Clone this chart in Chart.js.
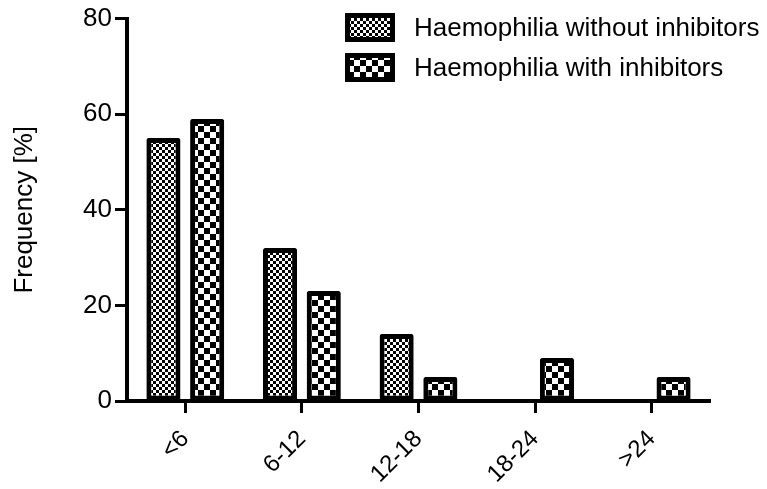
<!DOCTYPE html>
<html>
<head>
<meta charset="utf-8">
<script src="https://cdn.jsdelivr.net/npm/chart.js@4/dist/chart.umd.min.js"></script>
<style>
  html, body { margin: 0; padding: 0; background: #fff; }
  #chart { display: block; }
</style>
</head>
<body>
<canvas id="chart" width="767" height="489"></canvas>
<script>
// Données (fréquence en %)
const categories = ['<6', '6-12', '12-18', '18-24', '>24'];
const seriesNames = ['Haemophilia without inhibitors', 'Haemophilia with inhibitors'];
const withoutInhibitors = [55, 32, 14, 0, 0];
const withInhibitors = [59, 23, 5, 9, 5];
const yTicks = [0, 20, 40, 60, 80];

const FONT = "Arial, 'Liberation Sans', sans-serif";

const ctx = document.getElementById('chart').getContext('2d');

// Motif damier (taille de case en px)
function checker(cell) {
    const c = document.createElement('canvas');
    c.width = c.height = cell * 2;
    const g = c.getContext('2d');
    g.fillStyle = '#fff';
    g.fillRect(0, 0, cell * 2, cell * 2);
    g.fillStyle = '#000';
    g.fillRect(0, 0, cell, cell);
    g.fillRect(cell, cell, cell, cell);
    return ctx.createPattern(c, 'repeat');
}

const fineChecker = checker(3);
const coarseChecker = checker(6);

// Légende dessinée à la main, en haut à droite
const legendPlugin = {
    id: 'patternLegend',
    afterDraw(chart) {
        const g = chart.ctx;
        g.save();
        chart.data.datasets.forEach((ds, i) => {
            const x = 345, y = 13 + i * 40, w = 50, h = 29;
            g.fillStyle = ds.backgroundColor;
            g.fillRect(x, y, w, h);
            g.lineWidth = 5;
            g.strokeStyle = '#000';
            g.strokeRect(x + 2.5, y + 2.5, w - 5, h - 5);
            g.fillStyle = '#000';
            g.font = '26px ' + FONT;
            g.textBaseline = 'middle';
            g.fillText(ds.label, 414, y + h / 2 + 1);
        });
        g.restore();
    }
};

new Chart(ctx, {
    type: 'bar',
    data: {
        labels: categories,
        datasets: [{
            label: seriesNames[0],
            data: withoutInhibitors,
            backgroundColor: fineChecker,
            borderColor: '#000',
            borderWidth: 5,
            borderRadius: 2,
            borderSkipped: false
        }, {
            label: seriesNames[1],
            data: withInhibitors,
            backgroundColor: coarseChecker,
            borderColor: '#000',
            borderWidth: 5,
            borderRadius: 2,
            borderSkipped: false
        }]
    },
    options: {
        responsive: false,
        animation: false,
        devicePixelRatio: 1,
        categoryPercentage: 0.75,
        barPercentage: 0.78,
        layout: { padding: { top: 17, right: 57, left: 0, bottom: 0 } },
        plugins: {
            legend: { display: false },
            tooltip: { enabled: false }
        },
        scales: {
            x: {
                afterFit(scale) { scale.height = 88; },
                grid: {
                    offset: false,
                    drawOnChartArea: false,
                    tickLength: 12,
                    tickWidth: 3,
                    tickColor: '#000'
                },
                border: { display: true, color: '#000', width: 4 },
                ticks: {
                    color: '#000',
                    font: { family: FONT, size: 24 },
                    minRotation: 45,
                    maxRotation: 45,
                    padding: 12
                }
            },
            y: {
                min: 0,
                max: 80,
                afterFit(scale) { scale.width = 127; },
                afterBuildTicks(scale) { scale.ticks = yTicks.map(v => ({ value: v })); },
                grid: {
                    drawOnChartArea: false,
                    tickLength: 12,
                    tickWidth: 3,
                    tickColor: '#000'
                },
                border: { display: true, color: '#000', width: 4 },
                ticks: {
                    color: '#000',
                    font: { family: FONT, size: 26 },
                    padding: 3
                },
                title: {
                    display: true,
                    text: 'Frequency [%]',
                    color: '#000',
                    font: { family: FONT, size: 26 },
                    padding: { top: 9, bottom: 0 }
                }
            }
        }
    },
    plugins: [legendPlugin]
});
</script>
</body>
</html>
